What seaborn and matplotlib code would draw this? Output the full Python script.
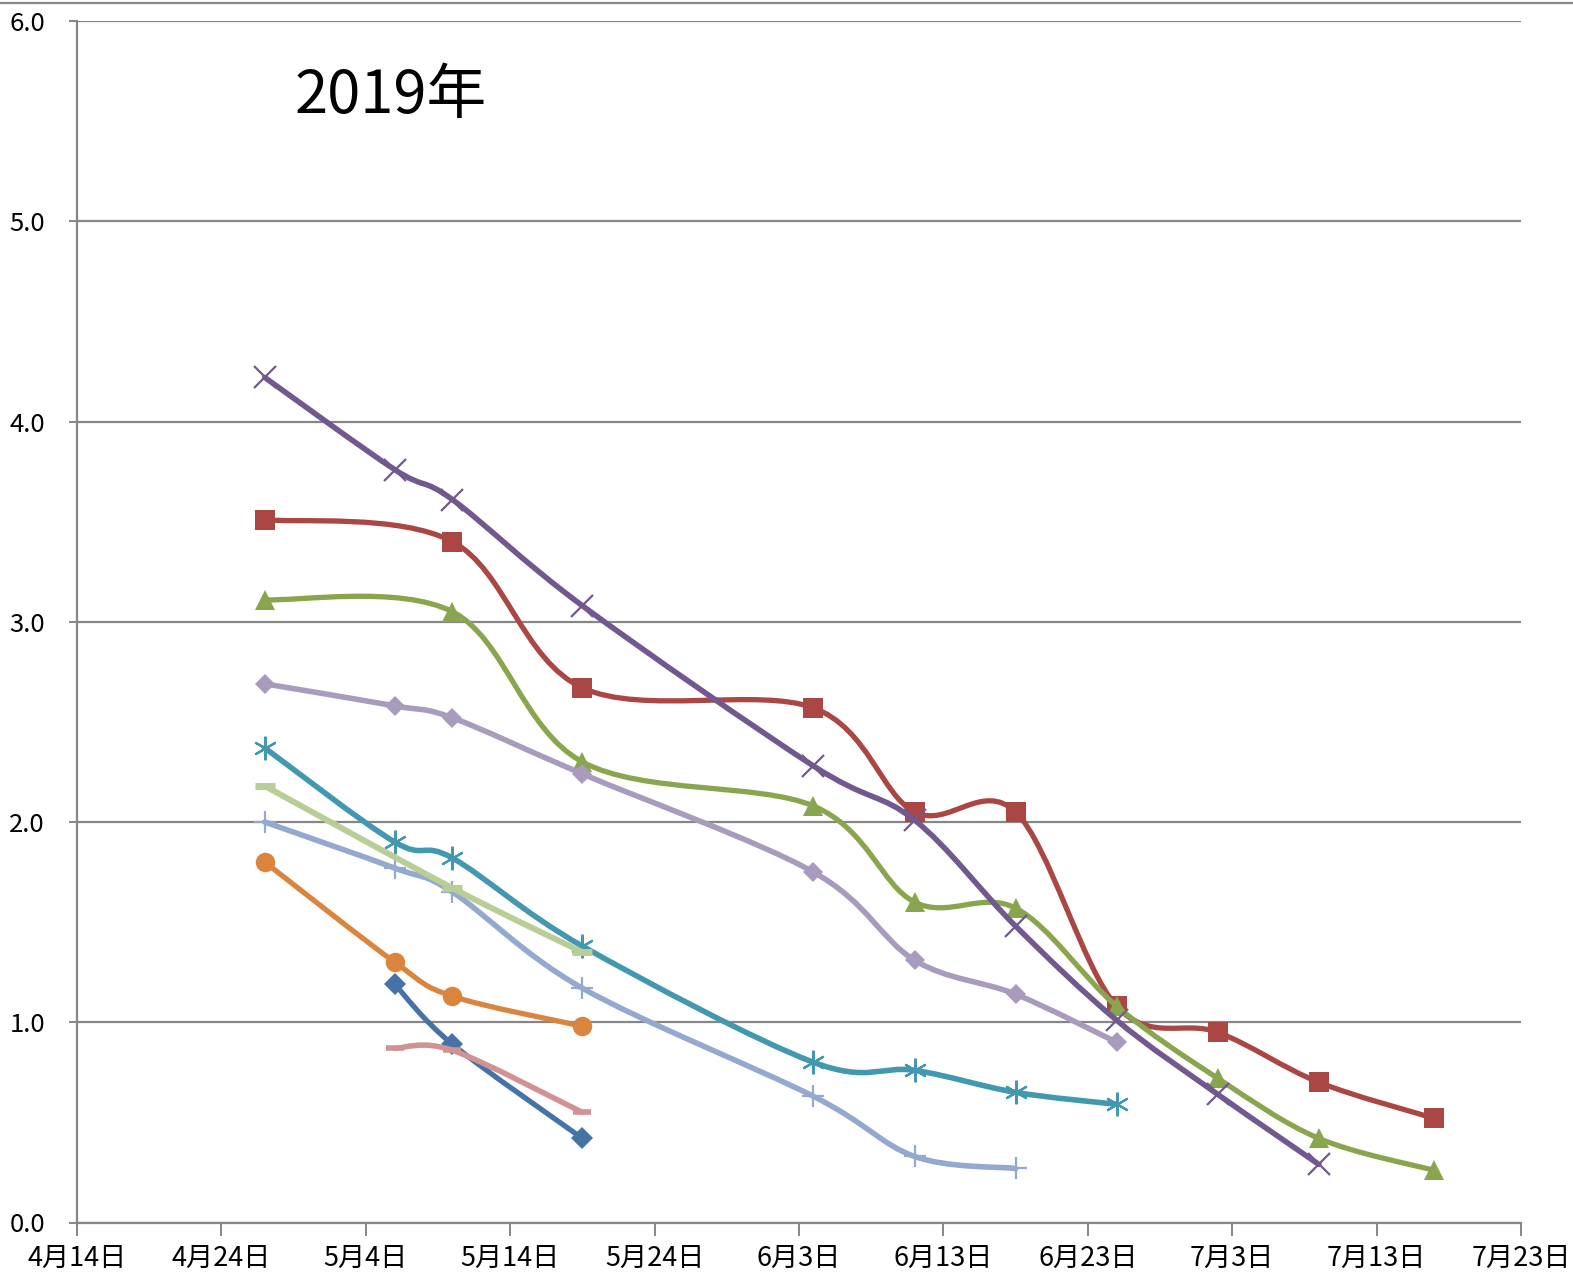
import numpy as np
import pandas as pd
import matplotlib
matplotlib.use("Agg")
import matplotlib.pyplot as plt
import matplotlib.dates as mdates
from matplotlib.path import Path
from matplotlib.patches import PathPatch
from matplotlib.lines import Line2D
from matplotlib.ticker import FuncFormatter, MultipleLocator
import seaborn as sns

YEAR = "2019"
title_text = "2019年"

# ---- data (month-day, value) ----
blue_dates = ["05-06", "05-10", "05-19"]
blue_vals = [1.19, 0.89, 0.42]

red_dates = ["04-27", "05-10", "05-19", "06-04", "06-11", "06-18", "06-25", "07-02", "07-09", "07-17"]
red_vals = [3.51, 3.40, 2.67, 2.57, 2.05, 2.05, 1.08, 0.95, 0.70, 0.52]

green_dates = ["04-27", "05-10", "05-19", "06-04", "06-11", "06-18", "06-25", "07-02", "07-09", "07-17"]
green_vals = [3.11, 3.05, 2.30, 2.08, 1.60, 1.57, 1.08, 0.72, 0.42, 0.26]

purple_dates = ["04-27", "05-06", "05-10", "05-19", "06-04", "06-11", "06-18", "06-25", "07-02", "07-09"]
purple_vals = [4.22, 3.76, 3.61, 3.08, 2.28, 2.01, 1.48, 1.01, 0.64, 0.29]

cyan_dates = ["04-27", "05-06", "05-10", "05-19", "06-04", "06-11", "06-18", "06-25"]
cyan_vals = [2.37, 1.90, 1.82, 1.38, 0.80, 0.76, 0.65, 0.59]

orange_dates = ["04-27", "05-06", "05-10", "05-19"]
orange_vals = [1.80, 1.30, 1.13, 0.98]

lightblue_dates = ["04-27", "05-06", "05-10", "05-19", "06-04", "06-11", "06-18"]
lightblue_vals = [2.00, 1.77, 1.65, 1.17, 0.63, 0.33, 0.27]

pink_dates = ["05-06", "05-10", "05-19"]
pink_vals = [0.87, 0.86, 0.55]

lightgreen_dates = ["04-27", "05-10", "05-19"]
lightgreen_vals = [2.18, 1.67, 1.35]

lavender_dates = ["04-27", "05-06", "05-10", "05-19", "06-04", "06-11", "06-18", "06-25"]
lavender_vals = [2.69, 2.58, 2.52, 2.24, 1.75, 1.31, 1.14, 0.90]

x_start = "04-14"
x_end = "07-23"
tick_step_days = 10
y_max = 6.0

# ---- style per series ----
series = [
    (blue_dates, blue_vals, dict(color="#4572A7", marker="D", ms=11, mew=0, lw=3.8)),
    (red_dates, red_vals, dict(color="#AA4643", marker="s", ms=14, mew=0, lw=3.8)),
    (green_dates, green_vals, dict(color="#89A54E", marker="^", ms=15, mew=0, lw=3.8)),
    (purple_dates, purple_vals, dict(color="#71588F", marker="x", ms=16, mew=1.6, lw=4.0)),
    (cyan_dates, cyan_vals, dict(color="#4198AF", marker=(6, 2, 0), ms=17, mew=1.6, lw=4.0)),
    (orange_dates, orange_vals, dict(color="#DB843D", marker="o", ms=14, mew=0, lw=3.8)),
    (lightblue_dates, lightblue_vals, dict(color="#93A9CF", marker="+", ms=16, mew=1.6, lw=4.0)),
    (pink_dates, pink_vals, dict(color="#D19392", marker="_", ms=13, mew=4, lw=4.0)),
    (lightgreen_dates, lightgreen_vals, dict(color="#B9CD96", marker="_", ms=15, mew=5, lw=4.3)),
    (lavender_dates, lavender_vals, dict(color="#A99BBD", marker="D", ms=10.5, mew=0, lw=4.0)),
]


def to_num(md):
    return mdates.date2num(pd.Timestamp(f"{YEAR}-{md}"))


def smooth_path(xs, ys):
    """Excel-style smoothed line as cubic Bezier path through the data points."""
    pts = np.column_stack([xs, ys]).astype(float)
    n = len(pts)
    verts = [pts[0]]
    codes = [Path.MOVETO]
    for i in range(n - 1):
        p_prev = pts[i - 1] if i > 0 else pts[i]
        p0 = pts[i]
        p1 = pts[i + 1]
        p_next = pts[i + 2] if i + 2 < n else pts[i + 1]
        c1 = p0 + (p1 - p_prev) / 6.0
        c2 = p1 - (p_next - p0) / 6.0
        verts += [c1, c2, p1]
        codes += [Path.CURVE4] * 3
    return Path(verts, codes)


sns.set_theme(style="white")
plt.rcParams["font.family"] = ["Noto Sans CJK JP", "DejaVu Sans"]

W, H = 1573, 1274
fig = plt.figure(figsize=(W / 100, H / 100), dpi=100)
ax = fig.add_axes([77 / W, 1 - 1222.5 / H, (1521 - 77) / W, (1222.5 - 21) / H])

grid_color = "#868686"
for k, (ds, vs, st) in enumerate(series):
    xs = [to_num(d) for d in ds]
    patch = PathPatch(smooth_path(xs, vs), facecolor="none", edgecolor=st["color"],
                      lw=st["lw"], capstyle="round", joinstyle="round", zorder=3 + 2 * k)
    ax.add_patch(patch)
    sns.lineplot(x=xs, y=vs, ax=ax, linestyle="none", marker=st["marker"],
                 markersize=st["ms"], color=st["color"], markeredgecolor=st["color"],
                 markerfacecolor=st["color"], markeredgewidth=st["mew"], zorder=4 + 2 * k)

ax.set_xlim(to_num(x_start), to_num(x_end))
ax.set_ylim(0, y_max)

ticks = np.arange(to_num(x_start), to_num(x_end) + 0.5, tick_step_days)
ax.set_xticks(ticks)


def fmt_date(v, pos):
    d = mdates.num2date(v)
    return f"{d.month}月{d.day}日"


ax.xaxis.set_major_formatter(FuncFormatter(fmt_date))
ax.yaxis.set_major_locator(MultipleLocator(1.0))
ax.yaxis.set_major_formatter(FuncFormatter(lambda v, p: f"{v:.1f}"))

ax.grid(axis="y", color=grid_color, lw=1.6)
ax.grid(axis="x", visible=False)
ax.set_axisbelow(True)
for s in ["top", "right"]:
    ax.spines[s].set_visible(False)
for s in ["left", "bottom"]:
    ax.spines[s].set_color(grid_color)
    ax.spines[s].set_linewidth(1.6)

ax.tick_params(axis="x", direction="out", length=9, width=1.4, color=grid_color,
               labelsize=19.5, pad=7, bottom=True, labelcolor="black")
ax.tick_params(axis="y", direction="out", length=6, width=1.4, color=grid_color,
               labelsize=18.5, pad=17, left=True, labelcolor="black")
ax.set_xlabel("")
ax.set_ylabel("")

ax.text(0.151, 0.937, title_text, transform=ax.transAxes, fontsize=43,
        ha="left", va="center", color="black")

fig.add_artist(Line2D([0, 1], [1 - 3 / H, 1 - 3 / H], transform=fig.transFigure,
                      color=grid_color, lw=1.6))

fig.savefig("out.png", dpi=100)
